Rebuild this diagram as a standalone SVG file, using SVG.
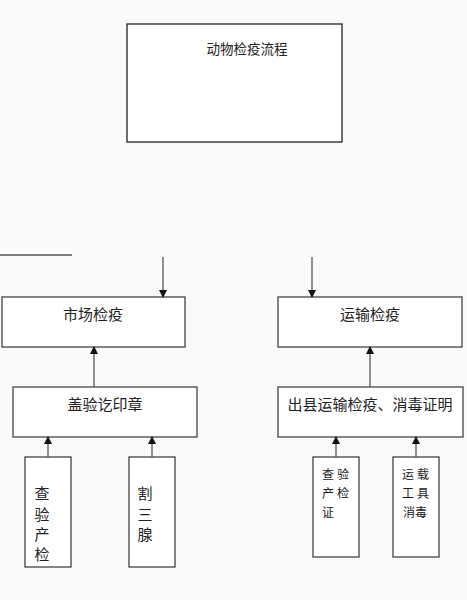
<svg xmlns="http://www.w3.org/2000/svg" width="467" height="600" viewBox="0 0 467 600">
<defs>
<style>
.box{fill:#fff;stroke:#444;stroke-width:1.3}
.t{font-family:"Noto Sans CJK SC","Noto Sans",sans-serif;fill:#222;dominant-baseline:central;text-anchor:middle}
.l{stroke:#555;stroke-width:1.3;fill:none}
</style>
<marker id="ah" markerWidth="8" markerHeight="8" refX="7" refY="4" orient="auto" markerUnits="userSpaceOnUse">
<path d="M0,0 L8,4 L0,8 Z" fill="#111"/>
</marker>
</defs>
<rect width="467" height="600" fill="#fafafa"/>
<g id="title">
<rect class="box" x="127" y="24" width="215" height="118" style="stroke:#222"/>
<text class="t" x="247" y="48" font-size="13.5">动物检疫流程</text>
</g>
<g id="market">
<rect class="box" x="2" y="297" width="183" height="50"/>
<text class="t" x="93" y="313" font-size="15">市场检疫</text>
</g>
<g id="transport">
<rect class="box" x="278" y="297" width="184" height="50"/>
<text class="t" x="370" y="313" font-size="15">运输检疫</text>
</g>
<g id="stamp">
<rect class="box" x="13" y="387" width="184" height="50"/>
<text class="t" x="105" y="403" font-size="15">盖验讫印章</text>
</g>
<g id="certificate">
<rect class="box" x="278" y="387" width="185" height="50"/>
<text class="t" x="370" y="403" font-size="15">出县运输检疫、消毒证明</text>
</g>
<g id="check">
<rect class="box" x="25" y="457" width="46" height="110"/>
<text class="t" x="42" y="492" font-size="15">查</text>
<text class="t" x="42" y="513" font-size="15">验</text>
<text class="t" x="42" y="533" font-size="15">产</text>
<text class="t" x="42" y="553" font-size="15">检</text>
</g>
<g id="gland">
<rect class="box" x="129" y="457" width="46" height="110"/>
<text class="t" x="145" y="492" font-size="15">割</text>
<text class="t" x="145" y="513" font-size="15">三</text>
<text class="t" x="145" y="533" font-size="15">腺</text>
</g>
<g id="checkcert">
<rect class="box" x="313" y="457" width="46" height="100"/>
<text class="t" x="328" y="473" font-size="12">查</text>
<text class="t" x="343" y="473" font-size="12">验</text>
<text class="t" x="328" y="492" font-size="12">产</text>
<text class="t" x="343" y="492" font-size="12">检</text>
<text class="t" x="328" y="511" font-size="12">证</text>
</g>
<g id="disinfect">
<rect class="box" x="393" y="457" width="46" height="100"/>
<text class="t" x="408" y="473" font-size="12">运</text>
<text class="t" x="423" y="473" font-size="12">载</text>
<text class="t" x="408" y="492" font-size="12">工</text>
<text class="t" x="423" y="492" font-size="12">具</text>
<text class="t" x="415" y="511" font-size="12">消毒</text>
</g>
<g id="connectors">
<line class="l" x1="0" y1="255" x2="72" y2="255"/>
<line class="l" x1="163" y1="257" x2="163" y2="297" marker-end="url(#ah)"/>
<line class="l" x1="312" y1="257" x2="312" y2="297" marker-end="url(#ah)"/>
<line class="l" x1="94" y1="387" x2="94" y2="347" marker-end="url(#ah)"/>
<line class="l" x1="370" y1="387" x2="370" y2="347" marker-end="url(#ah)"/>
<line class="l" x1="48" y1="457" x2="48" y2="437" marker-end="url(#ah)"/>
<line class="l" x1="152" y1="457" x2="152" y2="437" marker-end="url(#ah)"/>
<line class="l" x1="336" y1="457" x2="336" y2="437" marker-end="url(#ah)"/>
<line class="l" x1="416" y1="457" x2="416" y2="437" marker-end="url(#ah)"/>
</g>
</svg>
